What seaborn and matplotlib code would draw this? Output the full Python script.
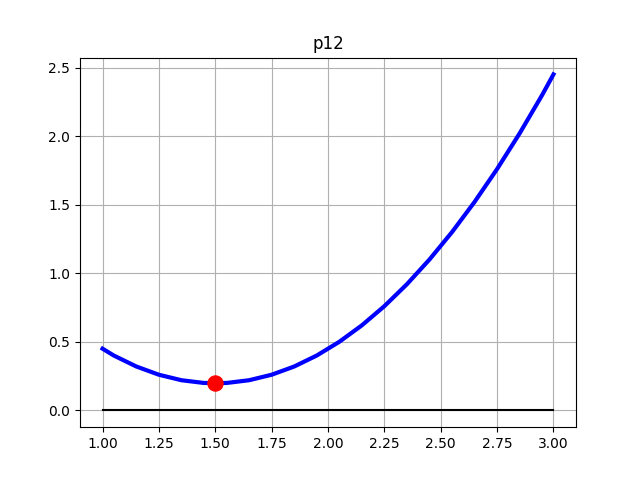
import matplotlib
matplotlib.use("Agg")
import matplotlib.pyplot as plt
import seaborn as sns

# curve values
x_vals = [1.00, 1.05, 1.10, 1.15, 1.20, 1.25, 1.30, 1.35, 1.40, 1.45, 1.50,
          1.55, 1.60, 1.65, 1.70, 1.75, 1.80, 1.85, 1.90, 1.95, 2.00,
          2.05, 2.10, 2.15, 2.20, 2.25, 2.30, 2.35, 2.40, 2.45, 2.50,
          2.55, 2.60, 2.65, 2.70, 2.75, 2.80, 2.85, 2.90, 2.95, 3.00]
y_vals = [0.45, 0.40, 0.36, 0.32, 0.29, 0.26, 0.24, 0.22, 0.21, 0.20, 0.20,
          0.20, 0.21, 0.22, 0.24, 0.26, 0.29, 0.32, 0.36, 0.40, 0.45,
          0.50, 0.56, 0.62, 0.69, 0.76, 0.84, 0.92, 1.01, 1.10, 1.20,
          1.30, 1.41, 1.52, 1.64, 1.76, 1.89, 2.02, 2.16, 2.30, 2.45]

# baseline at zero
base_x = [1.0, 3.0]
base_y = [0.0, 0.0]

# minimum point
min_x = [1.5]
min_y = [0.2]

fig, ax = plt.subplots(figsize=(6.4, 4.8), dpi=100)

sns.lineplot(x=x_vals, y=y_vals, color="blue", linewidth=3, ax=ax)
sns.lineplot(x=base_x, y=base_y, color="black", linewidth=1.5, ax=ax)
sns.scatterplot(x=min_x, y=min_y, color="red", s=120, edgecolor="red", zorder=5, ax=ax)

ax.set_title("p12")
ax.grid(True)

plt.savefig("out.png", dpi=100)
